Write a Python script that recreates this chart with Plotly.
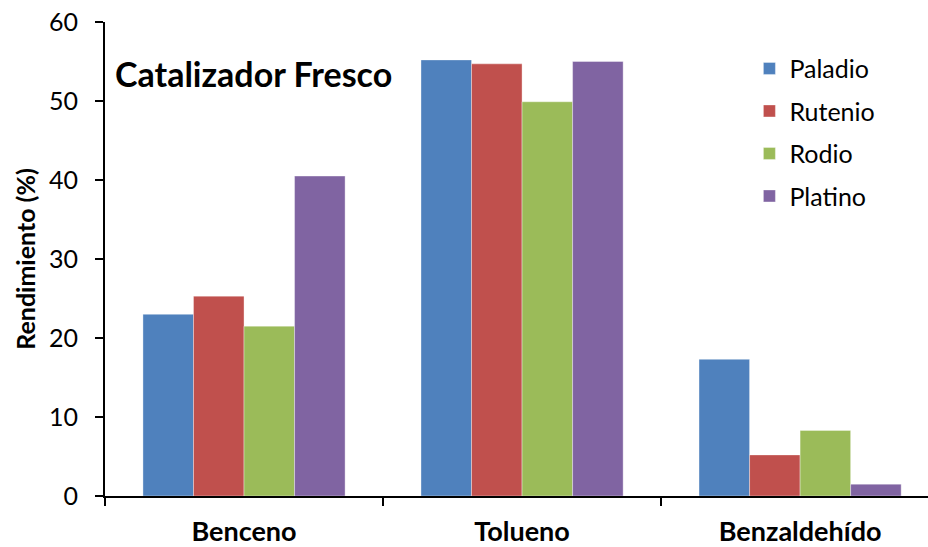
import plotly.graph_objects as go

categories = ["Benceno", "Tolueno", "Benzaldehído"]
paladio = [23.0, 55.2, 17.3]
rutenio = [25.3, 54.7, 5.2]
rodio = [21.5, 49.9, 8.3]
platino = [40.5, 55.0, 1.5]
series_names = ["Paladio", "Rutenio", "Rodio", "Platino"]
y_ticks = [0, 10, 20, 30, 40, 50, 60]

colors = ["#4F81BD", "#C0504D", "#9BBB59", "#8064A2"]
FONT = "Lato"

fig = go.Figure()
for i, (name, vals) in enumerate(zip(series_names, [paladio, rutenio, rodio, platino])):
    fig.add_trace(go.Bar(
        x=categories, y=vals, name=name, legendgroup=name,
        marker=dict(color=colors[i], line=dict(color="rgba(255,255,255,0.6)", width=0.6)),
    ))

fig.update_layout(
    width=928, height=547,
    margin=dict(l=105, r=0, t=22, b=51),
    paper_bgcolor="white", plot_bgcolor="white",
    barmode="group", bargap=0.273, bargroupgap=0,
    font=dict(family=FONT, color="black"),
    showlegend=True,
    legend=dict(
        x=0.783, y=0.95, xanchor="left", yanchor="top",
        font=dict(size=25, family=FONT),
        tracegroupgap=7, traceorder="grouped",
        bgcolor="rgba(0,0,0,0)", itemwidth=30,
    ),
    xaxis=dict(
        type="category", range=[-0.5, 2.46], automargin=False,
        showline=True, linecolor="black", linewidth=2,
        ticks="outside", tickson="boundaries", ticklen=8, tickwidth=2, tickcolor="black",
        tickfont=dict(size=27, family=FONT, weight="bold"),
        ticklabelstandoff=11,
        showgrid=False, zeroline=False,
    ),
    yaxis=dict(
        range=[0, 60], tickvals=y_ticks, automargin=False,
        showline=True, linecolor="black", linewidth=2,
        ticks="outside", ticklen=8, tickwidth=2, tickcolor="black",
        tickfont=dict(size=25, family=FONT),
        ticklabelstandoff=12,
        showgrid=False, zeroline=False,
        title=dict(text="<b>Rendimiento (%)</b>", font=dict(size=25, family=FONT), standoff=6),
    ),
    annotations=[dict(
        text="<b>Catalizador Fresco</b>", xref="paper", yref="paper",
        x=0.01, y=0.892, xanchor="left", yanchor="middle", showarrow=False,
        font=dict(size=34, family=FONT, color="black"),
    )],
)

fig.write_html("out.html", config={"displayModeBar": False},
               post_script="document.body.style.margin='0';")
